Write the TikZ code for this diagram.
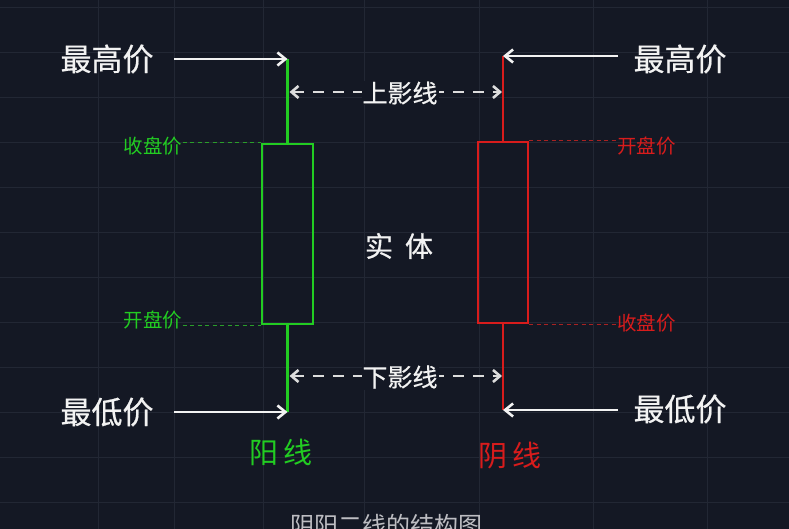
\documentclass[tikz,border=0pt]{standalone}
\usepackage{fontspec}
\setmainfont{Noto Sans CJK SC}
\newfontfamily\cjkheavy{Noto Sans CJK SC}[FakeBold=0.6]
\usetikzlibrary{arrows.meta}
\definecolor{bg}{HTML}{141824}
\definecolor{gridc}{HTML}{222734}
\definecolor{upg}{HTML}{22CC22}
\definecolor{upgd}{HTML}{2A9E2A}
\definecolor{dnr}{HTML}{D81C1C}
\definecolor{dnrd}{HTML}{A82222}
\definecolor{txtw}{HTML}{F2F2F2}
\definecolor{dashw}{HTML}{DCDCDC}
\definecolor{capg}{HTML}{BDBDC2}
\tikzset{
  gridline/.style={gridc, line width=0.9pt},
  wickg/.style={upg, line width=2.2pt},
  wickr/.style={dnr, line width=2.2pt},
  bodyg/.style={draw=upg, line width=2.2pt, inner sep=0pt, minimum width=51pt, minimum height=180pt},
  bodyr/.style={draw=dnr, line width=2.2pt, inner sep=0pt, minimum width=50pt, minimum height=181pt},
  pricearrow/.style={txtw, line width=2.6pt, -{Straight Barb[length=8pt,width=13pt]}},
  shadowarrow/.style={dashw, line width=2.6pt, dash pattern=on 11pt off 9pt, {Straight Barb[length=7pt,width=12pt]}-{Straight Barb[length=7pt,width=12pt]}},
  leaderg/.style={upgd, line width=1pt, dash pattern=on 4pt off 3.5pt},
  leaderr/.style={dnrd, line width=1pt, dash pattern=on 4pt off 3.5pt},
  bigtxt/.style={text=txtw, font=\cjkheavy\fontsize{31}{31}\selectfont, inner sep=0pt},
  midtxt/.style={text=txtw, font=\cjkheavy\fontsize{25}{25}\selectfont, inner sep=1pt, fill=bg},
  smallg/.style={text=upg, font=\fontsize{19.5}{19.5}\selectfont, inner sep=0pt},
  smallr/.style={text=dnr, font=\fontsize{19.5}{19.5}\selectfont, inner sep=0pt},
  kindtxt/.style={font=\fontsize{29}{29}\selectfont, inner sep=0pt},
}
\begin{document}
\begin{tikzpicture}[x=1pt,y=-1pt]
\useasboundingbox (0,0) rectangle (789,529);
\fill[bg] (0,0) rectangle (789,529);
% grid
\foreach \gx in {98,174,263,364,479,593,707} \draw[gridline] (\gx,0) -- (\gx,529);
\foreach \gy in {7,52,97,142,187,232,277,322,367,412,457,502} \draw[gridline] (0,\gy) -- (789,\gy);

% green (yang) candle
\node[bodyg] (gbody) at (287.5,234) {};
\coordinate (gh) at (287.5,59);
\coordinate (gl) at (287.5,412);
\draw[wickg] (gh) -- (gbody.north);
\draw[wickg] (gbody.south) -- (gl);

% red (yin) candle
\node[bodyr] (rbody) at (503,232.5) {};
\coordinate (rh) at (503,56);
\coordinate (rl) at (503,410);
\draw[wickr] (rh) -- (rbody.north);
\draw[wickr] (rbody.south) -- (rl);

% price labels
\node[bigtxt] (hiL) at (107,59) {最高价};
\node[bigtxt] (loL) at (107,412) {最低价};
\node[bigtxt] (hiR) at (680,59) {最高价};
\node[bigtxt] (loR) at (680,409) {最低价};
\coordinate (hiLs) at (174,59);
\coordinate (loLs) at (174,412);
\coordinate (hiRs) at (618,56);
\coordinate (loRs) at (618,410);
\draw[pricearrow] (hiLs) -- (gh);
\draw[pricearrow] (loLs) -- (gl);
\draw[pricearrow] (hiRs) -- (rh);
\draw[pricearrow] (loRs) -- (rl);

% shadow arrows
\coordinate (gu) at (289.5,92);
\coordinate (ru) at (502,92);
\coordinate (gd) at (289.5,376);
\coordinate (rd) at (502,376);
\draw[shadowarrow] (gu) -- (ru);
\draw[shadowarrow] (gd) -- (rd);
\node[midtxt] (upsh) at (400,93) {上影线};
\node[midtxt] (dnsh) at (400,377) {下影线};

% body label
\node[text=txtw, font=\cjkheavy\fontsize{28}{28}\selectfont, inner sep=0pt] (body) at (399,246) {实\hspace{12pt}体};

% open / close labels
\node[smallg, anchor=east] (gclose) at (182.5,146) {收盘价};
\node[smallg, anchor=east] (gopen) at (182.5,320) {开盘价};
\node[smallr, anchor=west] (ropen) at (617,146) {开盘价};
\node[smallr, anchor=west] (rclose) at (617,323) {收盘价};
\draw[leaderg] (gclose.east |- gbody.north) -- (gbody.north west);
\draw[leaderg] (gopen.east |- gbody.south) -- (gbody.south west);
\draw[leaderr] (rbody.north east) -- (ropen.west |- rbody.north);
\draw[leaderr] (rbody.south east) -- (rclose.west |- rbody.south);

% kind labels
\node[kindtxt, text=upg] (yang) at (281,452) {阳\hspace{5pt}线};
\node[kindtxt, text=dnr] (yin) at (510,456) {阴\hspace{5pt}线};

% caption
\node[text=capg, font=\fontsize{24}{24}\selectfont, inner sep=0pt, anchor=base] (cap) at (386,534) {阴阳二线的结构图};
\end{tikzpicture}
\end{document}
